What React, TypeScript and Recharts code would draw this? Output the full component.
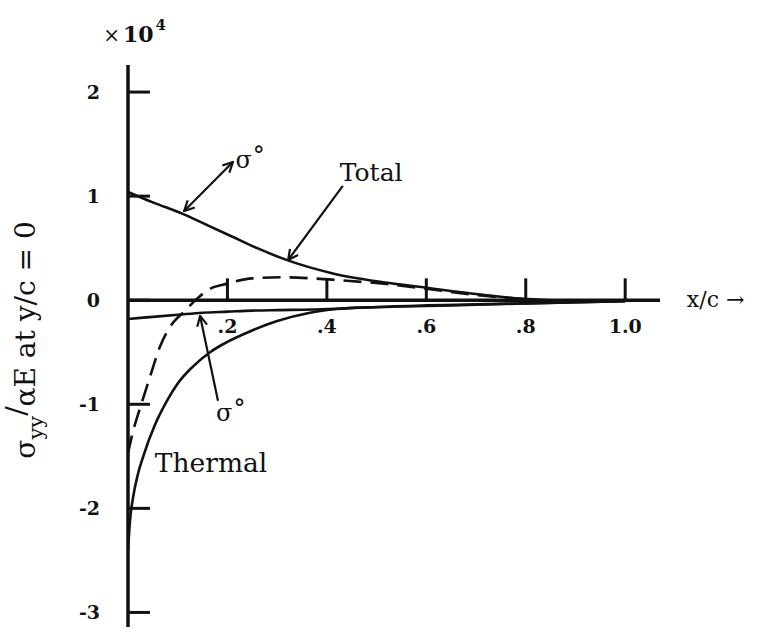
import React from "react";
import { LineChart, Line, XAxis, YAxis, ReferenceLine, ReferenceDot } from "recharts";

// values in units of 10^4
const topSigmaX = [0, 0.05, 0.11, 0.16, 0.21, 0.26, 0.32, 0.41, 0.51, 0.6, 0.71, 0.79, 0.85];
const topSigmaV = [1.04, 0.94, 0.83, 0.72, 0.61, 0.5, 0.385, 0.26, 0.175, 0.12, 0.055, 0.015, 0];

const lowSigmaX = [0, 0.05, 0.1, 0.15, 0.2, 0.25, 0.3, 0.37, 0.45, 0.55, 0.65, 0.8, 1.0];
const lowSigmaV = [-0.18, -0.16, -0.14, -0.12, -0.11, -0.1, -0.095, -0.09, -0.075, -0.06, -0.05, -0.03, -0.01];

const thermalX = [0, 0.004, 0.01, 0.02, 0.03, 0.054, 0.078, 0.1, 0.13, 0.165, 0.2, 0.245, 0.3, 0.366, 0.42, 0.5, 0.6, 0.7, 0.8, 0.9, 1.0];
const thermalV = [-2.4, -2.12, -1.9, -1.67, -1.51, -1.2, -0.97, -0.8, -0.64, -0.5, -0.4, -0.3, -0.2, -0.12, -0.085, -0.065, -0.05, -0.04, -0.03, -0.02, -0.01];

const totalX = [0, 0.008, 0.028, 0.044, 0.064, 0.09, 0.115, 0.14, 0.165, 0.2, 0.25, 0.31, 0.37, 0.43, 0.51, 0.6, 0.7, 0.8];
const totalV = [-1.47, -1.3, -0.98, -0.74, -0.45, -0.22, -0.1, 0.02, 0.11, 0.16, 0.21, 0.22, 0.21, 0.19, 0.16, 0.11, 0.05, 0.01];

const xTicks = [0.2, 0.4, 0.6, 0.8, 1.0];
const xTickLabels = [".2", ".4", ".6", ".8", "1.0"];
const yTicks = [2, 1, 0, -1, -2, -3];
const yTickLabels = ["2", "1", "0", "-1", "-2", "-3"];

const toRows = (xs: number[], vs: number[]) => xs.map((x, i) => ({ x, v: vs[i] }));
const topData = toRows(topSigmaX, topSigmaV);
const lowData = toRows(lowSigmaX, lowSigmaV);
const thermalData = toRows(thermalX, thermalV);
const totalData = toRows(totalX, totalV);

const SERIF = "'DejaVu Serif', 'Liberation Serif', serif";
const INK = "#111";

const YTick = (props: any) => {
  const { x, y, payload } = props;
  const i = yTicks.indexOf(payload.value);
  return (
    <g>
      <line x1={x} y1={y} x2={x + 22} y2={y} stroke={INK} strokeWidth={3} />
      <text x={x - 28} y={y} dy="0.36em" textAnchor="end" fontFamily={SERIF} fontWeight="bold" fontSize={19} fill={INK}>
        {yTickLabels[i]}
      </text>
    </g>
  );
};

const YLabel = (props: any) => {
  const vb = props.viewBox;
  const cx = vb.x + 25;
  const cy = vb.y + vb.height / 2 - 6;
  return (
    <text x={cx} y={cy} dy="0.35em" textAnchor="middle" transform={`rotate(-90, ${cx}, ${cy})`} fontFamily={SERIF} fontSize={28} fill={INK}>
      σ
      <tspan dy={8} fontSize={21}>yy</tspan>
      <tspan dy={-17}>/</tspan>
      <tspan dy={9}>αE at y/c = 0</tspan>
    </text>
  );
};

// text annotation pinned at a data point
const note = (render: (x: number, y: number) => React.ReactNode) => ({
  content: (p: any) => {
    const vb = p.viewBox || {};
    return render(vb.x + (vb.width || 0) / 2, vb.y + (vb.height || 0) / 2);
  },
});

export default function App() {
  return (
    <div style={{ position: "absolute", left: 0, top: 0, width: 770, height: 632, background: "#fff" }}>
      <LineChart width={770} height={632} margin={{ top: 65, right: 110, bottom: 5, left: 0 }}>
        <defs>
          <marker id="arr" viewBox="0 0 12 12" refX="11" refY="6" markerWidth="12" markerHeight="12" markerUnits="userSpaceOnUse" orient="auto-start-reverse">
            <path d="M1,1 L11,6 L1,11" fill="none" stroke={INK} strokeWidth={2.2} />
          </marker>
        </defs>
        <XAxis type="number" dataKey="x" domain={[0, 1.07]} hide allowDataOverflow />
        <YAxis
          type="number"
          domain={[-3.14, 2.26]}
          ticks={yTicks}
          interval={0}
          width={128}
          allowDataOverflow
          tickLine={false}
          tickSize={0}
          tickMargin={0}
          axisLine={{ stroke: INK, strokeWidth: 3.5 }}
          tick={<YTick />}
          label={{ content: YLabel }}
        />

        {/* x axis drawn through zero */}
        <ReferenceLine y={0} stroke={INK} strokeWidth={3.5} />
        {xTicks.map((t, i) => (
          <ReferenceLine
            key={t}
            segment={[{ x: t, y: 0 }, { x: t, y: 0.21 }]}
            stroke={INK}
            strokeWidth={3}
            label={note((x, y) => (
              <text x={x} y={y + 44} textAnchor="middle" fontFamily={SERIF} fontWeight="bold" fontSize={19} fill={INK}>
                {xTickLabels[i]}
              </text>
            ))}
          />
        ))}

        <Line data={topData} dataKey="v" type="monotone" stroke={INK} strokeWidth={2.6} dot={false} isAnimationActive={false} />
        <Line data={lowData} dataKey="v" type="monotone" stroke={INK} strokeWidth={2.6} dot={false} isAnimationActive={false} />
        <Line data={thermalData} dataKey="v" type="monotone" stroke={INK} strokeWidth={2.6} dot={false} isAnimationActive={false} />
        <Line data={totalData} dataKey="v" type="monotone" stroke={INK} strokeWidth={2.6} strokeDasharray="18 9" dot={false} isAnimationActive={false} />

        {/* pointers */}
        <ReferenceLine segment={[{ x: 0.211, y: 1.328 }, { x: 0.113, y: 0.857 }]} stroke={INK} strokeWidth={2.2} markerStart="url(#arr)" markerEnd="url(#arr)" />
        <ReferenceLine segment={[{ x: 0.432, y: 1.098 }, { x: 0.322, y: 0.386 }]} stroke={INK} strokeWidth={2.2} markerEnd="url(#arr)" />
        <ReferenceLine segment={[{ x: 0.181, y: -0.967 }, { x: 0.145, y: -0.151 }]} stroke={INK} strokeWidth={2.2} markerEnd="url(#arr)" />

        {/* text notes */}
        <ReferenceDot x={0.216} y={1.27} r={0} stroke="none" fill="none" ifOverflow="visible"
          label={note((x, y) => (
            <text x={x} y={y} fontFamily={SERIF} fontSize={24} fill={INK}>σ<tspan dx={1} dy={-4}>°</tspan></text>
          ))} />
        <ReferenceDot x={0.426} y={1.146} r={0} stroke="none" fill="none" ifOverflow="visible"
          label={note((x, y) => (
            <text x={x} y={y} fontFamily={SERIF} fontSize={25} fill={INK}>Total</text>
          ))} />
        <ReferenceDot x={0.177} y={-1.161} r={0} stroke="none" fill="none" ifOverflow="visible"
          label={note((x, y) => (
            <text x={x} y={y} fontFamily={SERIF} fontSize={24} fill={INK}>σ<tspan dx={1} dy={-4}>°</tspan></text>
          ))} />
        <ReferenceDot x={0.054} y={-1.65} r={0} stroke="none" fill="none" ifOverflow="visible"
          label={note((x, y) => (
            <text x={x} y={y} fontFamily={SERIF} fontSize={26.5} fill={INK}>Thermal</text>
          ))} />
        <ReferenceDot x={-0.05} y={2.48} r={0} stroke="none" fill="none" ifOverflow="visible"
          label={note((x, y) => (
            <text x={x} y={y} fontFamily={SERIF} fontSize={22} fontWeight="bold" fill={INK}>
              <tspan fontWeight="normal" fontSize={20}>×</tspan>
              <tspan dx={3}>10</tspan>
              <tspan dx={2} dy={-12} fontSize={15}>4</tspan>
            </text>
          ))} />
        <ReferenceDot x={1.124} y={0} r={0} stroke="none" fill="none" ifOverflow="visible"
          label={note((x, y) => (
            <text x={x} y={y} dy="0.3em" fontFamily={SERIF} fontSize={22} fill={INK}>x/c →</text>
          ))} />
      </LineChart>
    </div>
  );
}
